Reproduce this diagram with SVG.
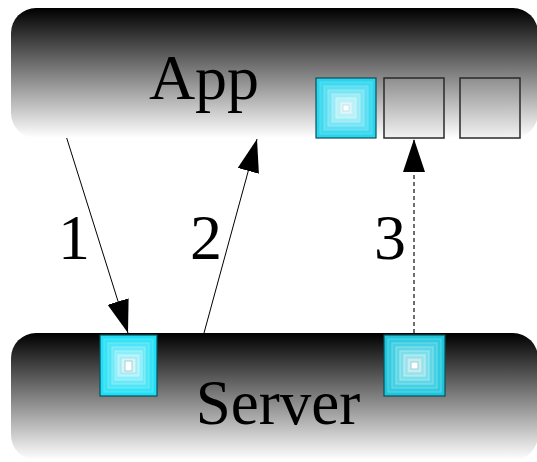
<svg xmlns="http://www.w3.org/2000/svg" width="537" height="462" viewBox="0 0 537 462">
  <style>
    .label { font-family: "Liberation Serif", "Times New Roman", serif; fill: #000; text-anchor: middle; }
    .edge { fill: none; stroke: #000; stroke-width: 1; }
    .dashed { fill: none; stroke: #222; stroke-width: 1.3; stroke-dasharray: 4 3; }
    .slot { stroke: #2a2a2a; stroke-width: 1.5; fill: url(#slotFill); }
    .frame { fill: none; stroke: #0b4f5a; stroke-width: 1.2; }
    .s0 { fill: #2ad4ec; } .s1 { fill: #40d9ef; stroke: #5ee0f2; stroke-width: .8; }
    .s2 { fill: #5cdff2; stroke: #7ce6f5; stroke-width: .8; } .s3 { fill: #7ae5f4; stroke: #98ebf7; stroke-width: .8; }
    .s4 { fill: #9becf7; stroke: #b6f1f9; stroke-width: .8; } .s5 { fill: #bbf2f9; stroke: #d4f7fb; stroke-width: .8; }
    .s6 { fill: #dbf8fc; stroke: #c6eef3; stroke-width: .8; } .s7 { fill: #ffffff; stroke: #b8dfe4; stroke-width: .8; }
    .t0 { fill: #1ec6dc; } .t1 { fill: #30cbe0; stroke: #5ad6e6; stroke-width: 1; }
    .t2 { fill: #45d0e3; stroke: #72dcea; stroke-width: 1; } .t3 { fill: #5fd7e7; stroke: #8ae2ed; stroke-width: 1; }
    .t4 { fill: #7cdeeb; stroke: #a6e9f1; stroke-width: 1; } .t5 { fill: #9ce6ef; stroke: #c0eff4; stroke-width: 1; }
    .t6 { fill: #c1eff4; stroke: #9ed7de; stroke-width: 1; } .t7 { fill: #ffffff; stroke: #9ccfd6; stroke-width: 1; }
    .u0 { fill: #1edff6; } .u1 { fill: #35e2f6; stroke: #5ae8f8; stroke-width: .9; }
    .u2 { fill: #4fe5f7; stroke: #74ebf9; stroke-width: .9; } .u3 { fill: #6ce9f8; stroke: #90eff9; stroke-width: .9; }
    .u4 { fill: #8ceefa; stroke: #aef3fb; stroke-width: .9; } .u5 { fill: #aef3fb; stroke: #cbf7fc; stroke-width: .9; }
    .u6 { fill: #d2f8fc; stroke: #a9dde3; stroke-width: .9; } .u7 { fill: #ffffff; stroke: #9fc9cf; stroke-width: .9; }
  </style>
  <defs>
    <linearGradient id="boxFill" x1="0" y1="0" x2="0" y2="1">
      <stop offset="0" stop-color="#000"/>
      <stop offset="1" stop-color="#fff"/>
    </linearGradient>
    <linearGradient id="slotFill" x1="0" y1="0" x2="0" y2="1">
      <stop offset="0" stop-color="#8e8e8e"/>
      <stop offset="1" stop-color="#f2f2f2"/>
    </linearGradient>
    <marker id="head" markerUnits="userSpaceOnUse" markerWidth="34" markerHeight="24" refX="33" refY="11" orient="auto">
      <path d="M0,0 L33,11 L0,22 Z" fill="#000" stroke="none"/>
    </marker>
  </defs>

  <!-- App node with its message slots -->
  <g id="app">
    <rect x="11" y="8" width="527" height="130" rx="25" ry="25" fill="url(#boxFill)"/>
    <text class="label" x="204" y="99" font-size="64">App</text>
    <g id="app-slot-1">
      <rect class="s0" x="316" y="78" width="60" height="60"/>
      <rect class="s1" x="320" y="82" width="52" height="52"/>
      <rect class="s2" x="324" y="86" width="44" height="44"/>
      <rect class="s3" x="328" y="90" width="36" height="36"/>
      <rect class="s4" x="332" y="94" width="28" height="28"/>
      <rect class="s5" x="336" y="98" width="20" height="20"/>
      <rect class="s6" x="340" y="102" width="12" height="12"/>
      <rect class="s7" x="343" y="105" width="6" height="6"/>
      <rect class="frame" x="316" y="78" width="60" height="60"/>
    </g>
    <rect id="app-slot-2" class="slot" x="384" y="78" width="60" height="60"/>
    <rect id="app-slot-3" class="slot" x="460" y="78" width="60" height="60"/>
  </g>

  <!-- Server node with its queued items -->
  <g id="server">
    <rect x="11" y="333" width="527" height="127" rx="25" ry="25" fill="url(#boxFill)"/>
    <text class="label" x="278" y="424" font-size="63">Server</text>
    <g id="server-item-1">
      <rect class="u0" x="100" y="335" width="57" height="61"/>
      <rect class="u1" x="104" y="339" width="49" height="53"/>
      <rect class="u2" x="108" y="343" width="41" height="45"/>
      <rect class="u3" x="112" y="347" width="33" height="37"/>
      <rect class="u4" x="115" y="351" width="27" height="29"/>
      <rect class="u5" x="118" y="355" width="21" height="21"/>
      <rect class="u6" x="121" y="358" width="15" height="15"/>
      <rect class="u7" x="125" y="361" width="7" height="10"/>
      <rect class="frame" x="100" y="335" width="57" height="61"/>
    </g>
    <g id="server-item-2">
      <rect class="t0" x="384" y="335" width="61" height="61"/>
      <rect class="t1" x="388" y="339" width="53" height="53"/>
      <rect class="t2" x="392" y="343" width="45" height="45"/>
      <rect class="t3" x="396" y="347" width="37" height="37"/>
      <rect class="t4" x="400" y="351" width="29" height="29"/>
      <rect class="t5" x="404" y="355" width="21" height="21"/>
      <rect class="t6" x="407" y="358" width="15" height="15"/>
      <rect class="t7" x="411" y="362" width="7" height="7"/>
      <rect class="frame" x="384" y="335" width="61" height="61"/>
    </g>
  </g>

  <!-- Connectors and their step numbers -->
  <g id="connectors">
    <line class="edge" x1="66.7" y1="138" x2="128" y2="333" marker-end="url(#head)"/>
    <line class="edge" x1="204" y1="333" x2="257" y2="139" marker-end="url(#head)"/>
    <line class="dashed" x1="414" y1="333" x2="414" y2="139" marker-end="url(#head)"/>
    <text class="label" x="74" y="259" font-size="64">1</text>
    <text class="label" x="206" y="259" font-size="64">2</text>
    <text class="label" x="390" y="259" font-size="64">3</text>
  </g>
</svg>
